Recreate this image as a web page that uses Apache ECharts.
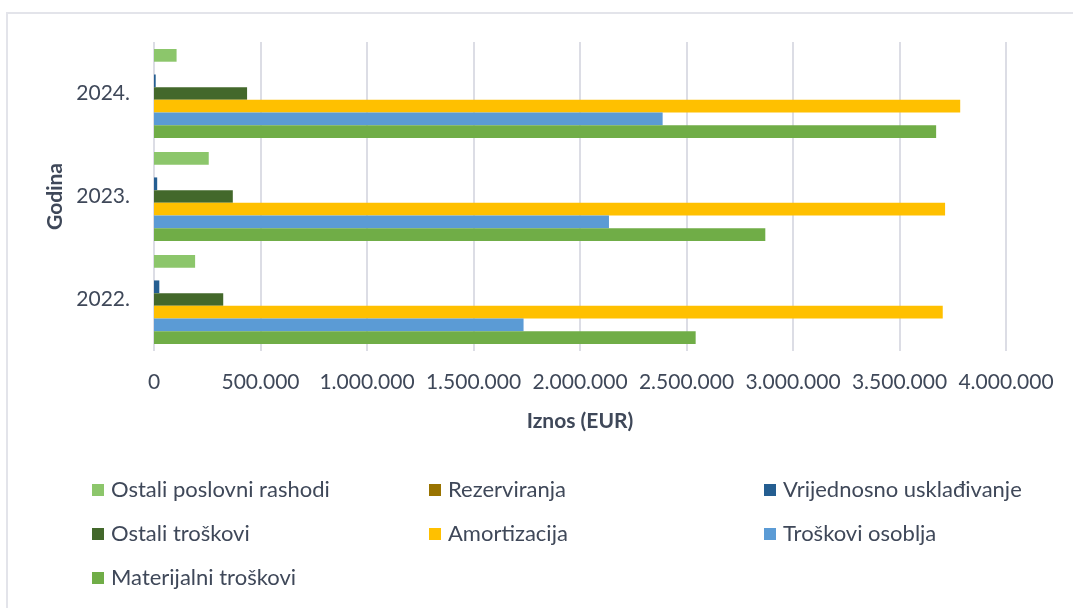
<!DOCTYPE html>
<html>
<head>
<meta charset="utf-8">
<script src="https://cdn.jsdelivr.net/npm/echarts@6/dist/echarts.min.js"></script>
<style>
html,body{margin:0;padding:0;background:#fff;}
#c{width:1073px;height:608px;}
</style>
</head>
<body>
<div id="c"></div>
<script>
const categories = ['2022.', '2023.', '2024.'];
const materijalniTroskovi = [2543000, 2870000, 3672000];
const troskoviOsoblja = [1735000, 2136000, 2388000];
const amortizacija = [3703000, 3714000, 3785000];
const ostaliTroskovi = [325000, 370000, 437000];
const vrijednosnoUskladivanje = [25000, 15000, 8000];
const rezerviranja = [0, 0, 0];
const ostaliPoslovniRashodi = [193000, 257000, 106000];
const xTicks = { min: 0, max: 4000000, interval: 500000 };

const FONT = 'Lato';
const TXT = '#3f4859';

// first series is drawn at the top of each category band
const seriesDefs = [
  { name: 'Ostali poslovni rashodi', data: ostaliPoslovniRashodi, color: '#8CC66B' },
  { name: 'Rezerviranja', data: rezerviranja, color: '#997300' },
  { name: 'Vrijednosno usklađivanje', data: vrijednosnoUskladivanje, color: '#255E91' },
  { name: 'Ostali troškovi', data: ostaliTroskovi, color: '#43682B' },
  { name: 'Amortizacija', data: amortizacija, color: '#FFC000' },
  { name: 'Troškovi osoblja', data: troskoviOsoblja, color: '#5B9BD5' },
  { name: 'Materijalni troškovi', data: materijalniTroskovi, color: '#70AD47' }
];

function fmt(v) {
  return String(Math.round(v)).replace(/\B(?=(\d{3})+(?!\d))/g, '.');
}

const legendBase = {
  orient: 'vertical',
  top: 479,
  padding: 0,
  itemWidth: 12,
  itemHeight: 12,
  itemGap: 22,
  icon: 'rect',
  selectedMode: false,
  textStyle: { fontFamily: FONT, fontSize: 22, color: TXT, lineHeight: 22, padding: [0, 0, 0, 2] }
};

const chart = echarts.init(document.getElementById('c'), null, { renderer: 'canvas' });
chart.setOption({
  animation: false,
  backgroundColor: '#fff',
  graphic: [{
    type: 'rect',
    shape: { x: 7, y: 13, width: 1200, height: 800 },
    style: { fill: 'none', stroke: '#e3e4ea', lineWidth: 2 },
    silent: true
  }],
  legend: [
    Object.assign({}, legendBase, { left: 92, data: ['Ostali poslovni rashodi', 'Ostali troškovi', 'Materijalni troškovi'] }),
    Object.assign({}, legendBase, { left: 429, data: ['Rezerviranja', 'Amortizacija'] }),
    Object.assign({}, legendBase, { left: 764, data: ['Vrijednosno usklađivanje', 'Troškovi osoblja'] })
  ],
  grid: { left: 154, right: 67, top: 42, height: 309, containLabel: false },
  xAxis: {
    type: 'value',
    min: xTicks.min, max: xTicks.max, interval: xTicks.interval,
    name: 'Iznos (EUR)',
    nameLocation: 'middle',
    nameGap: 60,
    nameTextStyle: { fontFamily: FONT, fontSize: 21, fontWeight: 'bold', color: TXT },
    axisLine: { show: false },
    axisTick: { show: false },
    axisLabel: { fontFamily: FONT, fontSize: 21, color: TXT, margin: 21, formatter: fmt },
    splitLine: { show: true, lineStyle: { color: '#dcdde5', width: 2 } }
  },
  yAxis: {
    type: 'category',
    data: categories,
    name: 'Godina',
    nameLocation: 'middle',
    nameRotate: 90,
    nameGap: 88,
    nameTextStyle: { fontFamily: FONT, fontSize: 21, fontWeight: 'bold', color: TXT },
    axisLine: { show: false },
    axisTick: { show: false },
    axisLabel: { fontFamily: FONT, fontSize: 21, color: TXT, margin: 24 },
    splitLine: { show: false }
  },
  series: seriesDefs.map(s => ({
    type: 'bar',
    name: s.name,
    data: s.data,
    itemStyle: { color: s.color },
    barGap: '0%',
    barCategoryGap: '13.6%'
  }))
});
</script>
</body>
</html>
